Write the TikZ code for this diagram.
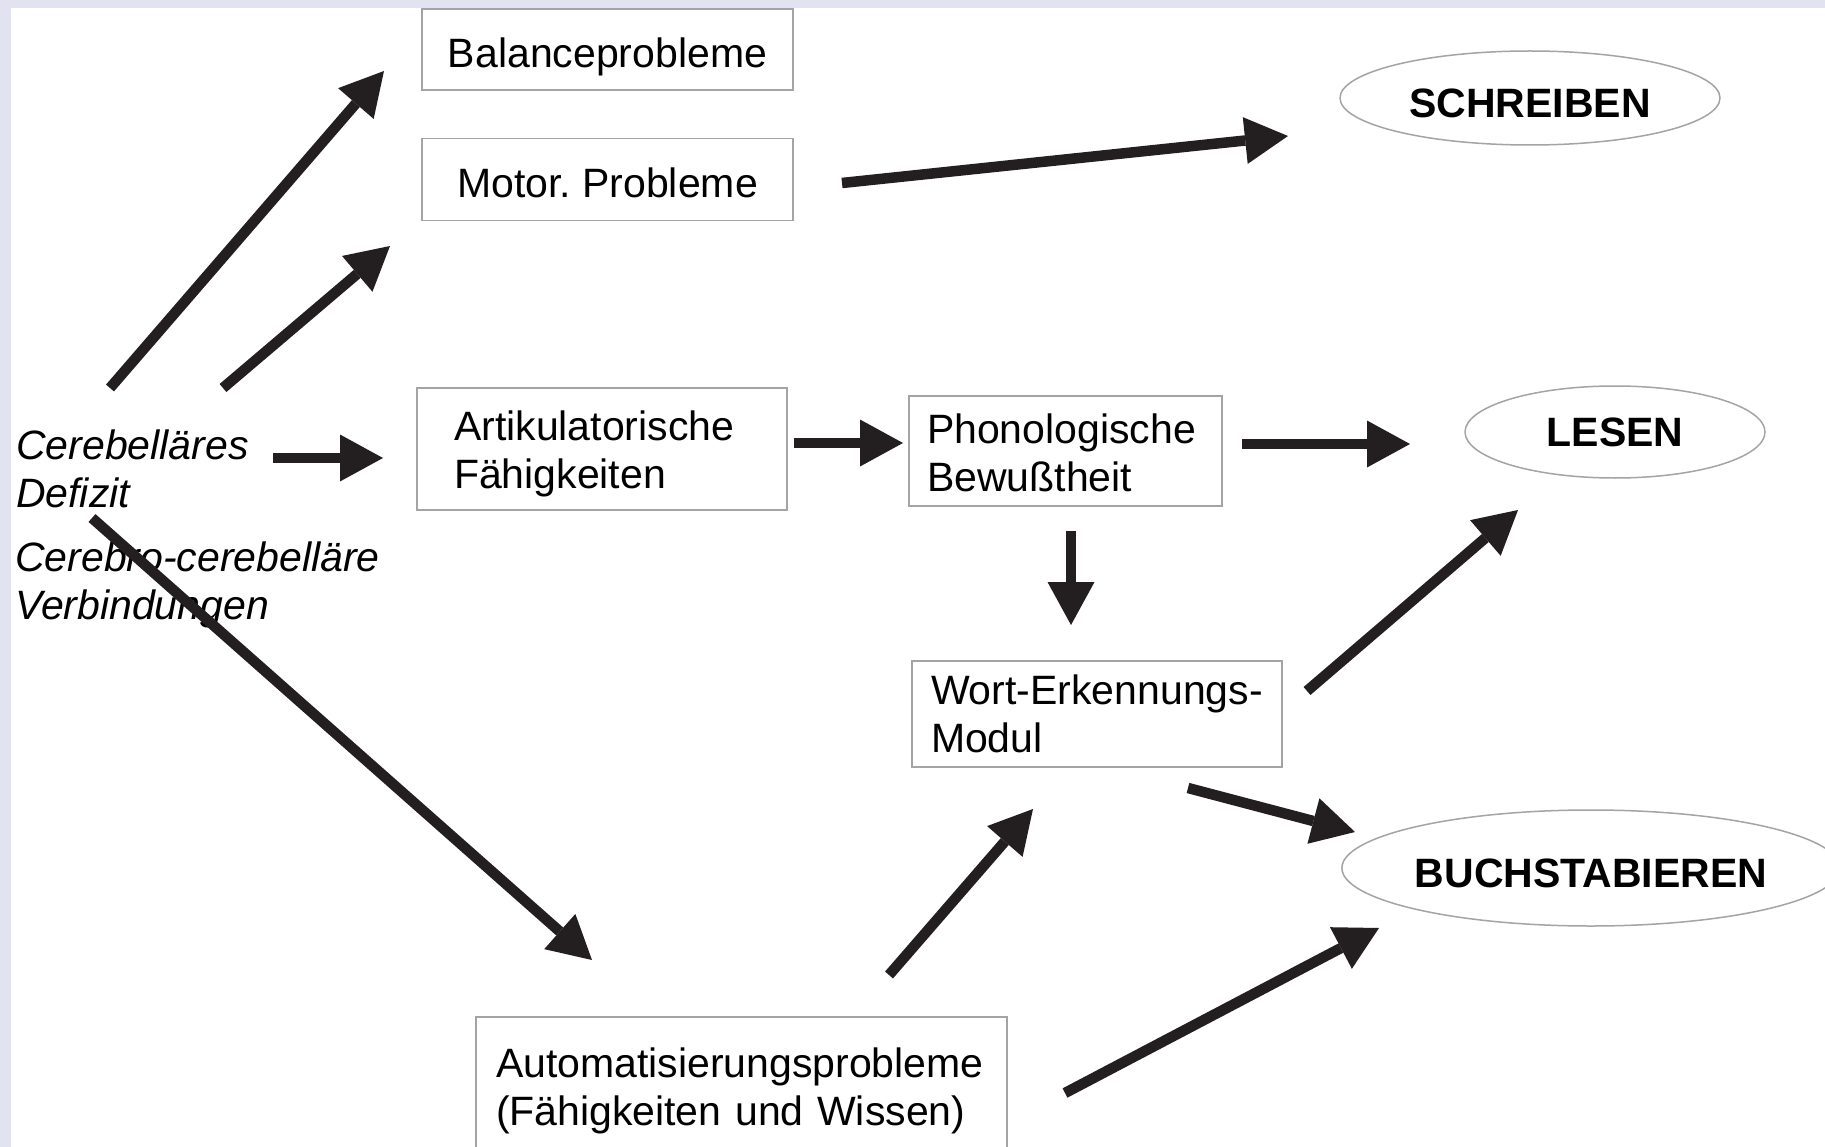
\documentclass[tikz,border=0pt]{standalone}
\usepackage{fontspec}
\setmainfont{Liberation Sans}
\usetikzlibrary{arrows.meta,shapes.geometric}
\definecolor{ink}{HTML}{231F20}
\definecolor{frame}{RGB}{225,228,240}
\definecolor{boxline}{HTML}{A4A4A4}
\tikzset{
  txt/.style={font=\fontsize{41}{48}\selectfont\frenchspacing},
  plainbox/.style={txt, draw=boxline, line width=1.5pt, rectangle, inner sep=0pt},
  onebox/.style={plainbox, text height=36pt, text depth=0pt},
  leftbox/.style={plainbox, align=left},
  goal/.style={ellipse, draw=boxline, line width=1.5pt, inner sep=0pt,
    font=\fontsize{41}{48}\selectfont\bfseries},
  lowgoal/.style={goal, text height=39pt, text depth=0pt},
  side/.style={font=\fontsize{41}{48}\selectfont\itshape, align=left, inner sep=0pt, anchor=west},
  arr/.style={line width=10.5pt, draw=ink,
    -{Triangle[length=43pt,width=47pt,line width=0pt]}}
}
\begin{document}
\begin{tikzpicture}[x=1pt,y=-1pt]
\useasboundingbox (0,0) rectangle (1825,1147);
\fill[white] (0,0) rectangle (1825,1147);
\fill[frame] (0,0) rectangle (1825,8);
\fill[frame] (0,0) rectangle (11,1147);

% boxes
\node[onebox, minimum width=371pt, minimum height=81pt] (bal) at (607.5,49.5) {Balanceprobleme};
\node[onebox, minimum width=371pt, minimum height=82pt] (mot) at (607.5,179.5) {Motor. Probleme};
\node[leftbox, text width=296pt, inner xsep=37pt, minimum height=122pt] (art) at (602,449)
  {\rule{0pt}{40pt}Artikulatorische\\Fähigkeiten};
\node[leftbox, text width=277pt, inner xsep=18pt, minimum height=110pt] (pho) at (1065.5,451)
  {\rule{0pt}{33pt}Phonologische\\Bewußtheit};
\node[leftbox, text width=332pt, inner xsep=19pt, minimum height=106pt] (wort) at (1097,714)
  {\mbox{Wort-Erkennungs-}\\Modul};
\node[leftbox, text width=491pt, inner xsep=20pt, minimum height=148pt] (auto) at (741.5,1091)
  {\mbox{Automatisierungsprobleme}\\\mbox{(Fähigkeiten und Wissen)}};

% goals
\node[lowgoal, minimum width=380pt, minimum height=94pt] (schreiben) at (1530,98) {SCHREIBEN};
\node[goal, minimum width=300pt, minimum height=92pt] (lesen) at (1615,432) {LESEN};
\node[lowgoal, minimum width=472pt, minimum height=116pt] (buch) at (1591,868) {BUCHSTABIEREN};

% side labels
\node[side] (defizit) at (16,469) {Cerebelläres\\Defizit};
\node[side] (verb) at (15,585) {Cerebro-cerebelläre\\Verbindungen};

% arrow end points
\coordinate (a1s) at (110,388);  \coordinate (a1e) at (384,71);
\coordinate (a2s) at (223,388);  \coordinate (a2e) at (390,246);
\coordinate (a3s) at (273,458);  \coordinate (a3e) at (383,458);
\coordinate (a4s) at (92,518);   \coordinate (a4e) at (592,960);
\coordinate (a5s) at (842,183);  \coordinate (a5e) at (1288,136);
\coordinate (a6s) at (794,443);  \coordinate (a6e) at (903,443);
\coordinate (a7s) at (1242,444); \coordinate (a7e) at (1410,444);
\coordinate (a8s) at (1071,531); \coordinate (a8e) at (1071,625);
\coordinate (a9s) at (1307,691); \coordinate (a9e) at (1518,510);
\coordinate (a10s) at (1188,788); \coordinate (a10e) at (1355,832);
\coordinate (a11s) at (889,975); \coordinate (a11e) at (1033,809);
\coordinate (a12s) at (1065,1093); \coordinate (a12e) at (1379,928);

\draw[arr] (a1s) -- (a1e);
\draw[arr] (a2s) -- (a2e);
\draw[arr] (a3s) -- (a3e);
\draw[arr] (a4s) -- (a4e);
\draw[arr] (a5s) -- (a5e);
\draw[arr] (a6s) -- (a6e);
\draw[arr] (a7s) -- (a7e);
\draw[arr] (a8s) -- (a8e);
\draw[arr] (a9s) -- (a9e);
\draw[arr] (a10s) -- (a10e);
\draw[arr] (a11s) -- (a11e);
\draw[arr] (a12s) -- (a12e);
\end{tikzpicture}
\end{document}
